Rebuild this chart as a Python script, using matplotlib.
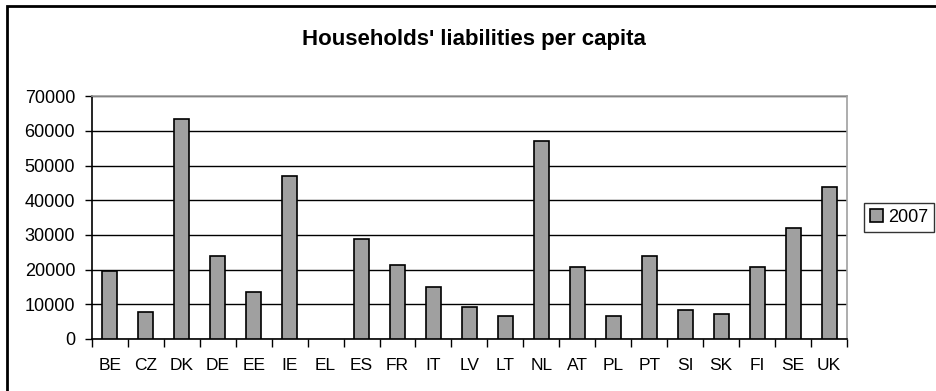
import numpy as np
import matplotlib.pyplot as plt
from matplotlib.patches import Rectangle

plt.rcParams['font.family'] = ['Liberation Sans', 'DejaVu Sans']

countries = ["BE", "CZ", "DK", "DE", "EE", "IE", "EL", "ES", "FR", "IT", "LV",
             "LT", "NL", "AT", "PL", "PT", "SI", "SK", "FI", "SE", "UK"]
liab_2007 = [19600, 7800, 63500, 24000, 13600, 47000, np.nan, 28800, 21400, 14900, 9200,
             6700, 57000, 20800, 6700, 24000, 8400, 7100, 20800, 31900, 43900]
yticks = [0, 10000, 20000, 30000, 40000, 50000, 60000, 70000]

fig = plt.figure(figsize=(9.37, 3.91), dpi=100)
ax = fig.add_axes([0.098, 0.133, 0.806, 0.621])

x = np.arange(len(countries))
ax.bar(x, liab_2007, width=0.42, color="#a0a0a0", edgecolor="black",
       linewidth=1.2, label="2007", zorder=3)

ax.set_xlim(-0.5, len(countries) - 0.5)
ax.set_ylim(0, 70000)
ax.set_yticks(yticks)
ax.set_yticklabels([str(v) for v in yticks], fontsize=13)
ax.tick_params(axis="y", length=5, width=1, pad=7, direction="out")

# category labels in the middle, tick marks between categories
ax.set_xticks(x)
ax.set_xticklabels(countries, fontsize=12.5)
ax.set_xticks(np.arange(-0.5, len(countries)), minor=True)
ax.tick_params(axis="x", which="major", length=0, pad=14)
ax.tick_params(axis="x", which="minor", length=6, width=1, direction="out")

ax.grid(axis="y", color="black", linewidth=1, zorder=0)
ax.set_axisbelow(True)
for side in ("left", "bottom"):
    ax.spines[side].set_color("black")
    ax.spines[side].set_linewidth(1.2)
for side in ("top", "right"):
    ax.spines[side].set_color("#a0a0a0")
    ax.spines[side].set_linewidth(1.2)

fig.text(0.506, 0.90, "Households' liabilities per capita", ha="center",
         va="center", fontsize=16, fontweight="bold")

leg = ax.legend(loc="center left", bbox_to_anchor=(1.022, 0.5), fontsize=13,
                frameon=True, fancybox=False, handlelength=0.7, handleheight=0.7,
                handletextpad=0.3, borderpad=0.35, borderaxespad=0)
leg.get_frame().set_edgecolor("black")
leg.get_frame().set_linewidth(1)

# chart frame
fig.add_artist(Rectangle((7 / 937, -0.2), 1.1, 1.2 - 5.5 / 391,
                         transform=fig.transFigure, fill=False,
                         edgecolor="black", linewidth=2))

fig.savefig("out.png", dpi=100)
